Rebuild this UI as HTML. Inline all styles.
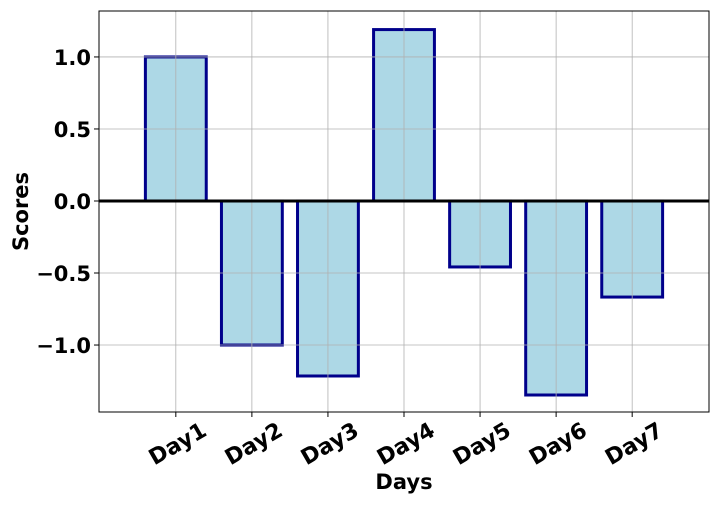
<!DOCTYPE html>
<html><head><meta charset="utf-8"><style>body{margin:0;background:#fff}svg text{font-family:"DejaVu Sans","Liberation Sans",sans-serif;font-weight:bold}</style></head>
<body>
<svg id="chart" width="720" height="504" xmlns="http://www.w3.org/2000/svg"></svg>
<script>
const categories=["Day1","Day2","Day3","Day4","Day5","Day6","Day7"];
const scores=[1.0,-1.0,-1.215,1.19,-0.458,-1.347,-0.667];
const yTicks=[-1.0,-0.5,0.0,0.5,1.0];
const yTickLabels=["\u22121.0","\u22120.5","0.0","0.5","1.0"];
const L=99,R=709,T=11,B=412,xMin=-1.01,xMax=7.01,yMin=-1.465,yMax=1.319;
const sx=v=>L+(v-xMin)/(xMax-xMin)*(R-L);
const sy=v=>T+(yMax-v)/(yMax-yMin)*(B-T);
const svg=document.getElementById('chart');const NS="http://www.w3.org/2000/svg";
function mk(t,a,p){const e=document.createElementNS(NS,t);for(const k in a)e.setAttribute(k,a[k]);(p||svg).appendChild(e);return e;}
const bw=sx(0.4)-sx(-0.4);
scores.forEach((v,i)=>{const y1=sy(Math.max(v,0)),y2=sy(Math.min(v,0));
const r=mk('rect',{x:sx(i)-bw/2,y:y1,width:bw,height:y2-y1,fill:'#add8e6',stroke:'#00008b','stroke-width':3});

});
const g=mk('g',{});
categories.forEach((c,i)=>{mk('line',{x1:sx(i),x2:sx(i),y1:T,y2:B,stroke:'#b0b0b0','stroke-width':0.8},g);
mk('line',{x1:sx(i),x2:sx(i),y1:B,y2:B+5,stroke:'#000','stroke-width':1});
const cx=sx(i)+2,cy=B+39;
const t=mk('text',{x:cx,y:cy,'font-size':22,'text-anchor':'middle',transform:`rotate(-30 ${cx} ${cy-7})`});
t.textContent=c;});
yTicks.forEach((v,i)=>{mk('line',{x1:L,x2:R,y1:sy(v),y2:sy(v),stroke:'#b0b0b0','stroke-width':0.8},g);
mk('line',{x1:L-5,x2:L,y1:sy(v),y2:sy(v),stroke:'#000','stroke-width':1});
const t=mk('text',{x:L-8,y:sy(v)+8,'font-size':21,'text-anchor':'end'});t.textContent=yTickLabels[i];
});
const z=mk('line',{x1:L,x2:R,y1:sy(0),y2:sy(0),stroke:'#000','stroke-width':3});

const f=mk('rect',{x:L,y:T,width:R-L,height:B-T,fill:'none',stroke:'#000','stroke-width':1});

const xt=mk('text',{x:(L+R)/2,y:489,'font-size':21,'text-anchor':'middle'});xt.textContent='Days';

const yt=mk('text',{x:28,y:(T+B)/2,'font-size':21,'text-anchor':'middle',transform:`rotate(-90 28 ${(T+B)/2})`});yt.textContent='Scores';

</script>
</body></html>
